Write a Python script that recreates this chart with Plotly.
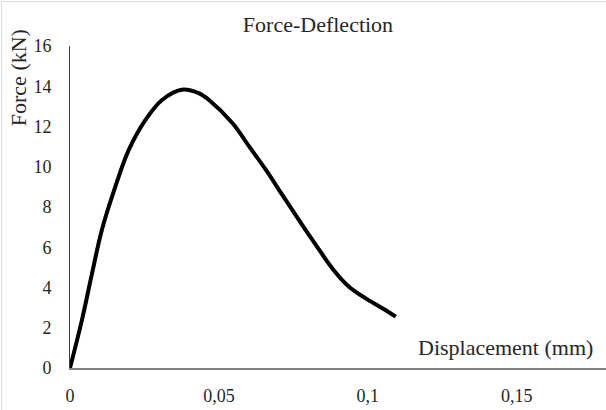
import plotly.graph_objects as go

# displacement (mm) and force (kN)
displacement = [0.0, 0.0040, 0.0074, 0.0107, 0.0152, 0.0197, 0.0253, 0.0309, 0.0375,
                0.0434, 0.0467, 0.0546, 0.0602, 0.0658, 0.0713, 0.0769, 0.0826,
                0.0881, 0.0937, 0.0993, 0.1049, 0.1094]
force = [0.0, 2.38, 4.70, 6.86, 9.00, 10.83, 12.32, 13.32, 13.83,
         13.65, 13.32, 12.16, 11.00, 9.84, 8.60, 7.35, 6.11,
         4.95, 4.04, 3.46, 2.97, 2.55]

x_ticks = [0, 0.05, 0.1, 0.15]
x_tick_text = ["0", "0,05", "0,1", "0,15"]
y_ticks = [0, 2, 4, 6, 8, 10, 12, 14, 16]

serif = "Liberation Serif, Times New Roman, serif"
ink = "#262626"

fig = go.Figure()
fig.add_trace(go.Scatter(
    x=displacement, y=force, mode="lines",
    line=dict(color="black", width=4, shape="spline", smoothing=1.0),
    showlegend=False, hoverinfo="skip",
))

fig.update_layout(
    width=606, height=410,
    margin=dict(l=70, r=0, t=46, b=42),
    paper_bgcolor="white", plot_bgcolor="white",
    font=dict(family=serif, size=18, color=ink),
    title=dict(text="Force-Deflection", x=318 / 606, xanchor="center",
               y=1 - 24 / 410, yanchor="middle",
               font=dict(family=serif, size=22, color=ink)),
    xaxis=dict(range=[0, 0.18], tickvals=x_ticks, ticktext=x_tick_text,
               showgrid=False, zeroline=False, showline=True,
               linecolor="#808080", linewidth=2, ticks="",
               ticklabelstandoff=10, tickfont=dict(size=18)),
    yaxis=dict(range=[0, 16], tickvals=y_ticks, showgrid=False, zeroline=False,
               showline=True, linecolor="#404040", linewidth=1, ticks="",
               ticklabelstandoff=14, tickfont=dict(size=18)),
    annotations=[
        dict(text="Displacement (mm)", xref="paper", yref="paper",
             x=0.979, y=0.065, xanchor="right", yanchor="middle",
             showarrow=False, font=dict(family=serif, size=22, color=ink)),
        dict(text="Force (kN)", xref="paper", yref="paper",
             x=-0.097, y=0.90, xanchor="center", yanchor="middle",
             textangle=-90, showarrow=False,
             font=dict(family=serif, size=22, color=ink)),
    ],
    shapes=[
        dict(type="line", xref="paper", yref="paper", x0=-68.5 / 536, x1=-68.5 / 536,
             y0=-42 / 322, y1=1 + 44.5 / 322, line=dict(color="#d9d9d9", width=1)),
        dict(type="line", xref="paper", yref="paper", x0=-68.5 / 536, x1=1,
             y0=1 + 44.5 / 322, y1=1 + 44.5 / 322, line=dict(color="#d9d9d9", width=1)),
    ],
)

# the page body has a default 8px margin; drop it so the figure fills the window
fig.write_html("out.html", config={"displayModeBar": False},
               post_script="document.body.style.margin='0';")
